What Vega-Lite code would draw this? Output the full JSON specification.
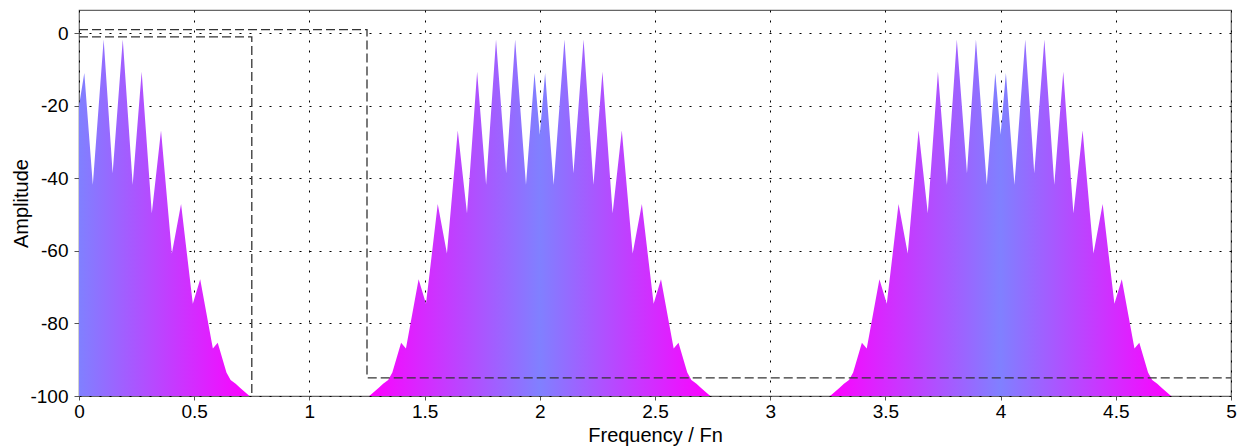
{
  "$schema": "https://vega.github.io/schema/vega-lite/v6.json",
  "width": 1152,
  "height": 386,
  "autosize": {"type": "none"},
  "padding": {"left": 79, "top": 10, "right": 12, "bottom": 52},
  "background": "white",
  "config": {
    "view": {"stroke": "#666666", "strokeWidth": 1.2},
    "font": "Liberation Sans",
    "axis": {
      "domain": false,
      "grid": true,
      "gridColor": "#000000",
      "gridDash": [2, 8],
      "gridWidth": 1,
      "gridOpacity": 1,
      "tickColor": "#555555",
      "labelColor": "#000000",
      "labelFontSize": 19,
      "labelFont": "Liberation Sans",
      "titleFont": "Liberation Sans",
      "titleFontSize": 20,
      "titleFontWeight": "normal",
      "titleColor": "#000000",
      "labelFlush": false,
      "labelOverlap": false
    }
  },
  "datasets": {
    "spectrum": [
      {"f": 0.000, "amp": -20}, {"f": 0.023, "amp": -11}, {"f": 0.060, "amp": -41.8}, {"f": 0.107, "amp": -1.7},
      {"f": 0.146, "amp": -38.6}, {"f": 0.190, "amp": -1.7}, {"f": 0.233, "amp": -41.8}, {"f": 0.272, "amp": -10.6},
      {"f": 0.316, "amp": -49.6}, {"f": 0.356, "amp": -26.8}, {"f": 0.403, "amp": -60.7}, {"f": 0.443, "amp": -47.1},
      {"f": 0.494, "amp": -74.6}, {"f": 0.526, "amp": -67.8}, {"f": 0.581, "amp": -86.9}, {"f": 0.602, "amp": -85.3},
      {"f": 0.640, "amp": -93.5}, {"f": 0.658, "amp": -95.6}, {"f": 0.680, "amp": -96.6}, {"f": 0.700, "amp": -97.8},
      {"f": 0.740, "amp": -100},
      {"f": 1.260, "amp": -100}, {"f": 1.300, "amp": -97.8}, {"f": 1.320, "amp": -96.6}, {"f": 1.342, "amp": -95.6},
      {"f": 1.360, "amp": -93.5}, {"f": 1.398, "amp": -85.3}, {"f": 1.419, "amp": -86.9}, {"f": 1.474, "amp": -67.8},
      {"f": 1.506, "amp": -74.6}, {"f": 1.557, "amp": -47.1}, {"f": 1.597, "amp": -60.7}, {"f": 1.644, "amp": -26.8},
      {"f": 1.684, "amp": -49.6}, {"f": 1.728, "amp": -10.6}, {"f": 1.767, "amp": -41.8}, {"f": 1.810, "amp": -1.7},
      {"f": 1.854, "amp": -38.6}, {"f": 1.893, "amp": -1.7}, {"f": 1.940, "amp": -41.8}, {"f": 1.977, "amp": -11},
      {"f": 2.000, "amp": -28},
      {"f": 2.023, "amp": -11}, {"f": 2.060, "amp": -41.8}, {"f": 2.107, "amp": -1.7}, {"f": 2.146, "amp": -38.6},
      {"f": 2.190, "amp": -1.7}, {"f": 2.233, "amp": -41.8}, {"f": 2.272, "amp": -10.6}, {"f": 2.316, "amp": -49.6},
      {"f": 2.356, "amp": -26.8}, {"f": 2.403, "amp": -60.7}, {"f": 2.443, "amp": -47.1}, {"f": 2.494, "amp": -74.6},
      {"f": 2.526, "amp": -67.8}, {"f": 2.581, "amp": -86.9}, {"f": 2.602, "amp": -85.3}, {"f": 2.640, "amp": -93.5},
      {"f": 2.658, "amp": -95.6}, {"f": 2.680, "amp": -96.6}, {"f": 2.700, "amp": -97.8}, {"f": 2.740, "amp": -100},
      {"f": 3.260, "amp": -100}, {"f": 3.300, "amp": -97.8}, {"f": 3.320, "amp": -96.6}, {"f": 3.342, "amp": -95.6},
      {"f": 3.360, "amp": -93.5}, {"f": 3.398, "amp": -85.3}, {"f": 3.419, "amp": -86.9}, {"f": 3.474, "amp": -67.8},
      {"f": 3.506, "amp": -74.6}, {"f": 3.557, "amp": -47.1}, {"f": 3.597, "amp": -60.7}, {"f": 3.644, "amp": -26.8},
      {"f": 3.684, "amp": -49.6}, {"f": 3.728, "amp": -10.6}, {"f": 3.767, "amp": -41.8}, {"f": 3.810, "amp": -1.7},
      {"f": 3.854, "amp": -38.6}, {"f": 3.893, "amp": -1.7}, {"f": 3.940, "amp": -41.8}, {"f": 3.977, "amp": -11},
      {"f": 4.000, "amp": -28},
      {"f": 4.023, "amp": -11}, {"f": 4.060, "amp": -41.8}, {"f": 4.107, "amp": -1.7}, {"f": 4.146, "amp": -38.6},
      {"f": 4.190, "amp": -1.7}, {"f": 4.233, "amp": -41.8}, {"f": 4.272, "amp": -10.6}, {"f": 4.316, "amp": -49.6},
      {"f": 4.356, "amp": -26.8}, {"f": 4.403, "amp": -60.7}, {"f": 4.443, "amp": -47.1}, {"f": 4.494, "amp": -74.6},
      {"f": 4.526, "amp": -67.8}, {"f": 4.581, "amp": -86.9}, {"f": 4.602, "amp": -85.3}, {"f": 4.640, "amp": -93.5},
      {"f": 4.658, "amp": -95.6}, {"f": 4.680, "amp": -96.6}, {"f": 4.700, "amp": -97.8}, {"f": 4.740, "amp": -100},
      {"f": 5.000, "amp": -100}
    ],
    "mask": [
      {"limit": "lower", "pt": 1, "f": 0, "amp": -1},
      {"limit": "lower", "pt": 2, "f": 0.75, "amp": -1},
      {"limit": "lower", "pt": 3, "f": 0.75, "amp": -100},
      {"limit": "upper", "pt": 1, "f": 0, "amp": 1},
      {"limit": "upper", "pt": 2, "f": 1.25, "amp": 1},
      {"limit": "upper", "pt": 3, "f": 1.25, "amp": -95},
      {"limit": "upper", "pt": 4, "f": 5, "amp": -95}
    ]
  },
  "encoding": {
    "x": {
      "field": "f",
      "type": "quantitative",
      "title": "Frequency / Fn",
      "scale": {"domain": [0, 5], "nice": false, "zero": false},
      "axis": {
        "values": [0, 0.5, 1, 1.5, 2, 2.5, 3, 3.5, 4, 4.5, 5],
        "labelExpr": "toString(datum.value)",
        "tickSize": 4,
        "labelPadding": 2,
        "titlePadding": 4
      }
    },
    "y": {
      "field": "amp",
      "type": "quantitative",
      "title": "Amplitude",
      "scale": {"domain": [-100, 6.4], "nice": false, "zero": false},
      "axis": {
        "values": [-100, -80, -60, -40, -20, 0],
        "labelExpr": "toString(datum.value)",
        "tickSize": 5,
        "labelPadding": 6,
        "titleAngle": -90,
        "titleX": -52,
        "titleY": 193,
        "titleAlign": "center",
        "titleBaseline": "alphabetic"
      }
    }
  },
  "layer": [
    {
      "data": {"name": "spectrum"},
      "mark": {
        "type": "area",
        "interpolate": "linear",
        "fill": {
          "gradient": "linear",
          "x1": 0, "y1": 0, "x2": 1, "y2": 0,
          "stops": [
            {"offset": 0, "color": "#8080ff"},
            {"offset": 0.15, "color": "#ff00ff"},
            {"offset": 0.25, "color": "#ff00ff"},
            {"offset": 0.4, "color": "#8080ff"},
            {"offset": 0.55, "color": "#ff00ff"},
            {"offset": 0.65, "color": "#ff00ff"},
            {"offset": 0.8, "color": "#8080ff"},
            {"offset": 0.95, "color": "#ff00ff"},
            {"offset": 1, "color": "#ff00ff"}
          ]
        }
      },
      "encoding": {
        "y2": {"datum": -100}
      }
    },
    {
      "data": {"name": "mask"},
      "mark": {"type": "line", "color": "#333333", "strokeDash": [9, 4], "strokeWidth": 1.3},
      "encoding": {
        "detail": {"field": "limit", "type": "nominal"},
        "order": {"field": "pt", "type": "quantitative"}
      }
    }
  ]
}
